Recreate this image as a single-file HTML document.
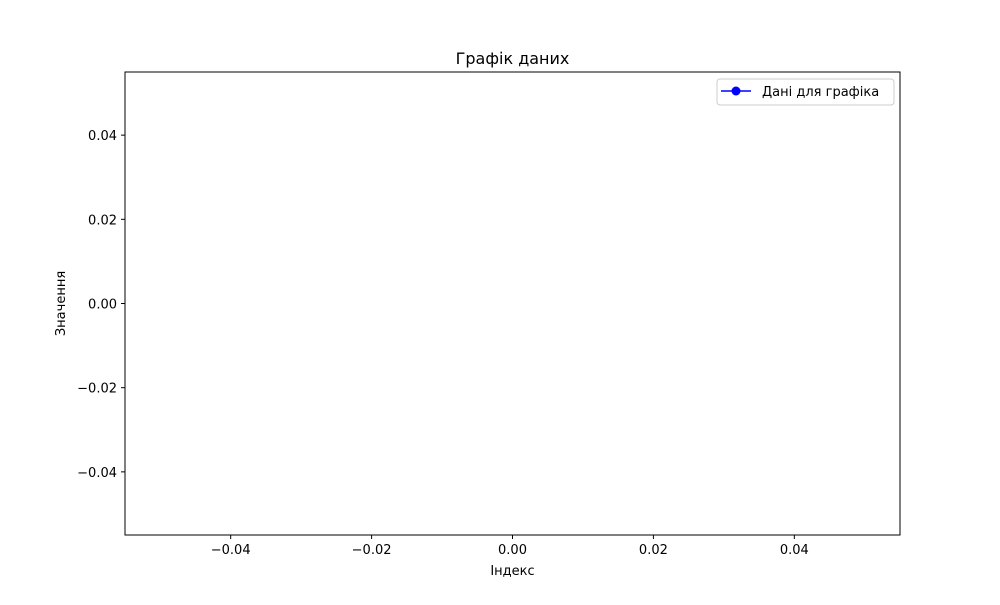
<!DOCTYPE html>
<html><head><meta charset="utf-8"><style>
body{margin:0;background:#fff;font-family:"Liberation Sans","DejaVu Sans",sans-serif;}
svg text{font-family:"DejaVu Sans","Liberation Sans",sans-serif;}
</style></head><body>
<svg id="chart" width="1000" height="600">
<rect width="1000" height="600" fill="#fff"/>
<text x="512.5" y="64" text-anchor="middle" font-size="16">Графік даних</text>
<g id="ticks"></g>
<g id="series"></g>
<rect x="125" y="72" width="775" height="463" fill="none" stroke="#000" stroke-width="1"/>
<text x="512.5" y="575" text-anchor="middle" font-size="13">Індекс</text>
<text transform="translate(65,303.5) rotate(-90)" text-anchor="middle" font-size="13">Значення</text>
<g>
<rect x="717" y="79" width="177" height="26" rx="3" fill="#fff" stroke="#ccc"/>
<line x1="721" y1="91" x2="751" y2="91" stroke="#0000ff" stroke-width="1.5"/>
<circle cx="736" cy="91" r="4.5" fill="#0000ff"/>
<text x="762" y="96" font-size="13">Дані для графіка</text>
</g>
</svg>
<script>
const xValues = [];
const yValues = [];
const xTicks = [-0.04, -0.02, 0.00, 0.02, 0.04];
const yTicks = [0.04, 0.02, 0.00, -0.02, -0.04];
const xTickLabels = ["−0.04", "−0.02", "0.00", "0.02", "0.04"];
const yTickLabels = ["0.04", "0.02", "0.00", "−0.02", "−0.04"];
const NS = "http://www.w3.org/2000/svg";
const L = 125, R = 900, T = 72, B = 535;
const xMin = -0.055, xMax = 0.055, yMin = -0.055, yMax = 0.055;
function sx(v){return L + (v - xMin) / (xMax - xMin) * (R - L);}
function sy(v){return B - (v - yMin) / (yMax - yMin) * (B - T);}
const tg = document.getElementById('ticks');
xTicks.forEach((v, i) => {
  const l = document.createElementNS(NS, 'line');
  l.setAttribute('x1', sx(v)); l.setAttribute('x2', sx(v));
  l.setAttribute('y1', B); l.setAttribute('y2', B + 4);
  l.setAttribute('stroke', '#000');
  
  
  tg.appendChild(l);
  const t = document.createElementNS(NS, 'text');
  t.setAttribute('x', sx(v)); t.setAttribute('y', B + 19);
  t.setAttribute('text-anchor', 'middle'); t.setAttribute('font-size', '13');
  t.textContent = xTickLabels[i];
  
  
  tg.appendChild(t);
});
yTicks.forEach((v, i) => {
  const l = document.createElementNS(NS, 'line');
  l.setAttribute('x1', L - 4); l.setAttribute('x2', L);
  l.setAttribute('y1', sy(v)); l.setAttribute('y2', sy(v));
  l.setAttribute('stroke', '#000');
  
  
  tg.appendChild(l);
  const t = document.createElementNS(NS, 'text');
  t.setAttribute('x', L - 8); t.setAttribute('y', sy(v) + 5);
  t.setAttribute('text-anchor', 'end'); t.setAttribute('font-size', '13');
  t.textContent = yTickLabels[i];
  
  
  tg.appendChild(t);
});
const sg = document.getElementById('series');
if (xValues.length) {
  const p = document.createElementNS(NS, 'polyline');
  p.setAttribute('points', xValues.map((x, i) => sx(x) + ',' + sy(yValues[i])).join(' '));
  p.setAttribute('fill', 'none'); p.setAttribute('stroke', '#0000ff'); p.setAttribute('stroke-width', '1.5');
  
  
  sg.appendChild(p);
  xValues.forEach((x, i) => {
    const c = document.createElementNS(NS, 'circle');
    c.setAttribute('cx', sx(x)); c.setAttribute('cy', sy(yValues[i])); c.setAttribute('r', 4.5);
    c.setAttribute('fill', '#0000ff');
    
    
    sg.appendChild(c);
  });
}
</script>
</body></html>
